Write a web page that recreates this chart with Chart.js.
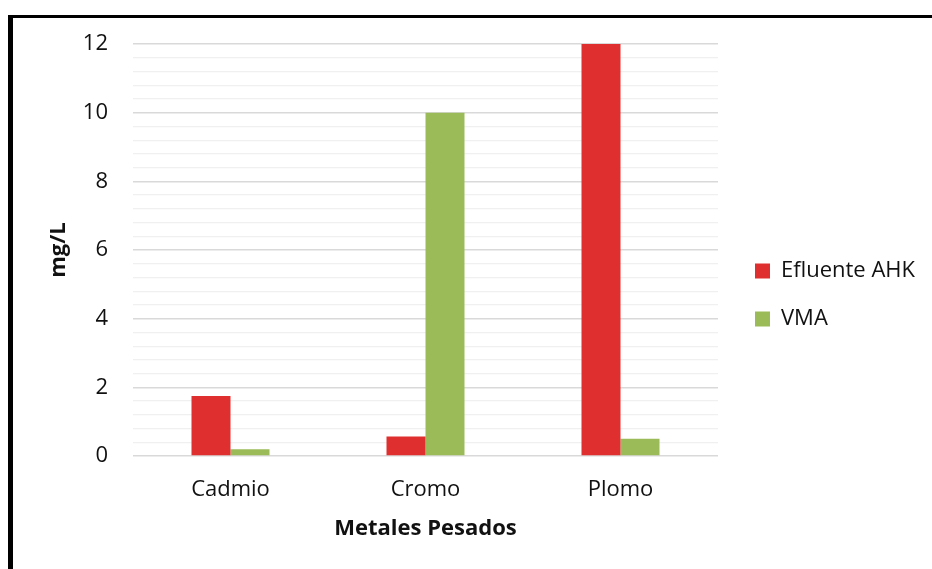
<!DOCTYPE html>
<html>
<head>
<meta charset="utf-8">
<script src="https://cdn.jsdelivr.net/npm/chart.js@4"></script>
<style>
  html, body { margin: 0; padding: 0; background: #fff; }
  #wrap { position: relative; width: 932px; height: 569px; overflow: hidden; }
  #frame { position: absolute; left: 8px; top: 15px; width: 940px; height: 580px;
           border-left: 5px solid #000; border-top: 3px solid #000; box-sizing: border-box; pointer-events: none; }
  canvas { position: absolute; left: 0; top: 0; }
</style>
</head>
<body>
<div id="wrap">
  <canvas id="chart" width="932" height="569"></canvas>
  <div id="frame"></div>
</div>
<script>
// Heavy-metal concentrations (mg/L)
const categories = ['Cadmio', 'Cromo', 'Plomo'];
const efluenteAHK = [1.75, 0.57, 12];
const vma = [0.2, 10, 0.5];
const seriesNames = ['Efluente AHK', 'VMA'];
const yMajorTicks = [0, 2, 4, 6, 8, 10, 12];

const FONT = "'Open Sans', 'DejaVu Sans', sans-serif";
const labelFont = { family: FONT, size: 22 };
const titleFont = { family: FONT, size: 22, weight: 'bold' };

const isMajor = v => yMajorTicks.some(t => Math.abs(t - v) < 1e-6);

// measure the widest legend label so the plot area ends where intended
const mctx = document.createElement('canvas').getContext('2d');
mctx.font = "22px " + FONT;
const legendTextW = Math.max(...seriesNames.map(s => mctx.measureText(s).width));
const LEG_PAD = 26, BOX = 15;
const legendW = LEG_PAD + BOX + labelFont.size / 2 + legendTextW + 10;
const PLOT_RIGHT = 718;
const LEGEND_SHIFT = 11;

const legendShift = {
  id: 'legendShift',
  afterLayout(chart) {
    const lg = chart.legend;
    if (lg) { lg.left += LEGEND_SHIFT; lg.right += LEGEND_SHIFT; }
  }
};

new Chart(document.getElementById('chart'), {
  type: 'bar',
  data: {
    labels: categories,
    datasets: [
      { label: seriesNames[0], data: efluenteAHK, backgroundColor: '#e02f2f', borderWidth: 0 },
      { label: seriesNames[1], data: vma, backgroundColor: '#9bbb59', borderWidth: 0 }
    ]
  },
  options: {
    responsive: false,
    animation: false,
    layout: { padding: { left: 15, top: 44, bottom: 23, right: Math.max(0, 932 - PLOT_RIGHT - legendW) } },
    datasets: { bar: { categoryPercentage: 0.4, barPercentage: 1.0 } },
    scales: {
      x: {
        grid: { display: false, drawTicks: false },
        border: { display: false },
        ticks: { font: labelFont, color: '#111', padding: 21 },
        title: { display: true, text: 'Metales Pesados', font: titleFont, color: '#111', padding: { top: 0, bottom: 4 } },
        afterFit(scale) { scale.height = 90; }
      },
      y: {
        min: 0, max: 12,
        grid: {
          drawTicks: false,
          color: c => isMajor(c.tick.value) ? '#d9d9d9' : '#f0f0f0',
          lineWidth: c => isMajor(c.tick.value) ? 1.5 : 1.2
        },
        border: { display: false },
        ticks: {
          stepSize: 0.4, maxTicksLimit: 40, autoSkip: false,
          font: labelFont, color: '#111', padding: 25,
          callback: v => isMajor(v) ? String(Math.round(v)) : ''
        },
        title: { display: true, text: 'mg/L', font: titleFont, color: '#111', padding: { top: 31, bottom: 0 } },
        afterFit(scale) { scale.width = 118; }
      }
    },
    plugins: {
      legend: {
        position: 'right',
        align: 'center',
        labels: { font: labelFont, color: '#111', boxWidth: BOX, boxHeight: BOX, padding: LEG_PAD }
      },
      tooltip: { enabled: false }
    }
  },
  plugins: [legendShift]
});
</script>
</body>
</html>
